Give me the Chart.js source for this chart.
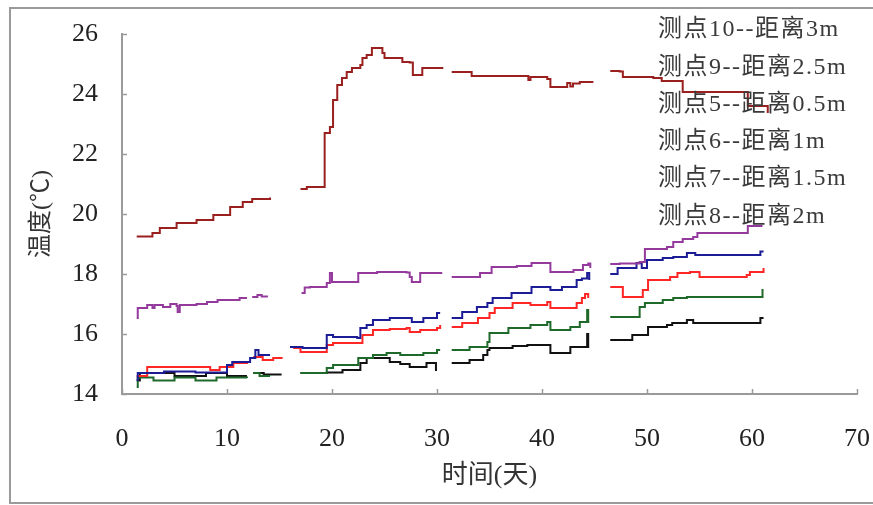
<!DOCTYPE html>
<html>
<head>
<meta charset="utf-8">
<script src="https://cdn.jsdelivr.net/npm/chart.js@4/dist/chart.umd.min.js"></script>
<style>
  html, body { margin: 0; padding: 0; background: #fff; }
  #wrap { width: 873px; height: 505px; position: relative; }
</style>
</head>
<body>
<div id="wrap"><canvas id="c" width="873" height="505"></canvas></div>
<script>
// ---- Data (days, temperature °C); null marks a gap in the record ----
const seriesLabels = ["测点10--距离3m", "测点9--距离2.5m", "测点5--距离0.5m", "测点6--距离1m", "测点7--距离1.5m", "测点8--距离2m"];
const xTickValues = [0, 10, 20, 30, 40, 50, 60, 70];
const yTickValues = [14, 16, 18, 20, 22, 24, 26];

const days10 = [1.4,2.9,3.6,5.2,7.1,8.7,10.3,11.5,12.4,14.1, 15.5, 17.0,17.6,19.1,19.3,19.8,20.1,20.5,20.95,21.4,21.9,22.7,22.9,23.3,23.8,24.4,24.8,25.0,26.7,27.4,27.7,28.2,28.6,30.6, 31.0, 31.4,32.9,33.3,38.6,38.7,38.9,40.5,40.8,42.0,42.4,42.7,42.95,43.6,44.8, 45.6, 46.5,47.4,47.7,50.6,51.4,53.4,59.5,59.6,61.4,61.5];
const temp10 = [19.25,19.37,19.53,19.7,19.8,19.97,20.23,20.4,20.5,20.55, null, 20.83,20.9,20.9,22.7,22.9,23.8,24.3,24.53,24.73,24.87,24.97,25.2,25.3,25.53,25.53,25.37,25.2,25.07,25.05,24.63,24.63,24.87,24.87, null, 24.73,24.73,24.6,24.6,24.47,24.57,24.5,24.23,24.23,24.37,24.25,24.35,24.4,24.43, null, 24.77,24.75,24.57,24.53,24.43,24.07,24.07,23.6,23.6,23.37];

const days9 = [1.4,1.5,2.4,2.9,3.1,3.9,4.6,5.2,5.3,5.5,7.1,8.1,9.1,11.2,11.9, 12.1, 12.4,12.9,13.3,13.8, 15.5, 17.1,17.4,17.9,19.5,19.8,20.0,22.5,24.3,27.1,27.4,27.6,28.4,30.5, 31.0, 31.4,34.1,35.2,37.6,39.0,40.8,43.0,43.9,44.4,44.6, 45.6, 46.5,47.4,49.3,49.8,51.9,52.5,53.4,54.4,54.8,59.6,61.0];
const temp9 = [16.53,16.87,16.97,16.87,16.97,16.9,17.0,16.93,16.73,16.97,17.0,17.07,17.13,17.2,17.2, null, 17.23,17.3,17.25,17.28, null, 17.37,17.55,17.57,17.7,18.03,17.73,18.03,18.07,18.05,17.9,17.73,18.03,18.03, null, 17.9,18.03,18.23,18.27,18.37,18.07,18.13,18.3,18.35,18.2, null, 18.33,18.35,18.4,18.83,18.9,19.07,19.17,19.23,19.37,19.6,19.6];

const days5 = [1.4,1.5,4.0,7.0,10.0,10.5,12.2,12.7,13.0,14.1, 15.2, 16.0,17.2,19.5,20.1,22.4,22.7,23.3,23.9,25.5,27.4,27.6,28.7,30.0,30.3, 31.0, 31.4,32.4,33.8,34.8,35.3,37.1,39.0,40.8,41.9,43.3,43.8,44.3,44.5, 45.6, 46.5,47.2,49.0,49.5,50.0,51.5,52.5,53.8,54.6,60.8,61.1];
const temp5 = [14.47,14.7,14.75,14.72,14.97,15.07,15.2,15.47,15.3,15.3, null, 15.57,15.53,15.97,15.9,15.87,16.2,16.3,16.47,16.53,16.53,16.4,16.53,16.7,16.7, null, 16.53,16.73,16.9,17.03,17.2,17.37,17.57,17.47,17.57,17.8,17.85,18.03,17.8, null, 18.0,18.2,18.37,18.2,18.47,18.53,18.57,18.7,18.63,18.75,18.75];

const days6 = [1.4,2.4,7.4,8.4,9.3,10.6,11.9, 12.2, 12.5,13.4,14.4,15.3, 15.8, 16.3,17.0,19.5,20.1,22.5,22.9,23.9,25.5,27.1,27.4,28.4,30.0,30.3, 31.0, 31.4,32.4,33.9,35.0,35.5,37.2,38.9,40.5,40.8,43.3,43.8,44.1,44.4, 45.6, 46.5,47.7,49.6,50.1,52.2,52.9,54.1,55.0,59.5,59.8,61.1];
const temp6 = [14.6,14.9,14.9,14.8,14.9,15.03,15.07, null, 15.23,15.13,15.2,15.2, null, 15.53,15.4,15.63,15.7,15.7,15.97,16.13,16.17,16.2,16.07,16.13,16.2,16.3, null, 16.23,16.37,16.53,16.7,16.87,17.03,16.97,17.07,16.87,17.03,17.2,17.33,17.2, null, 17.57,17.23,17.47,17.8,17.9,18.03,18.07,17.9,17.97,18.07,18.2];

const days7 = [1.4,1.5,3.0,5.0,7.0,9.0,11.9, 12.2, 12.5,13.1,14.1, 15.5, 17.0,19.5,20.1,22.5,23.9,25.2,26.5,28.7,30.0,30.3, 31.0, 31.4,33.1,34.8,35.0,36.8,38.9,40.5,40.8,42.7,43.6,44.3,44.4,44.5, 45.6, 46.5,49.3,49.8,51.5,52.5,53.8,61.0,61.1];
const temp7 = [14.23,14.55,14.45,14.55,14.45,14.55,14.53, null, 14.7,14.6,14.6, null, 14.7,14.87,14.97,15.2,15.3,15.37,15.3,15.37,15.47,15.47, null, 15.47,15.57,15.73,16.03,16.2,16.3,16.4,16.13,16.23,16.4,16.8,16.4,16.4, null, 16.57,16.9,17.03,17.13,17.2,17.23,17.47,17.47];

const days8 = [1.4,1.7,5.0,8.0,10.0,11.9, 12.2, 12.5,13.5,15.2, 15.8, 17.0,19.5,21.0,22.7,23.3,25.5,26.5,27.4,29.0,29.9,30.0, 31.0, 31.4,33.1,34.4,34.8,35.0,37.2,38.6,40.8,42.7,44.3,44.4,44.5, 45.6, 46.5,48.6,50.1,51.9,52.4,53.8,54.4,60.8,61.1];
const temp8 = [14.45,14.7,14.6,14.7,14.6,14.6, null, 14.7,14.65,14.65, null, 14.7,14.72,14.8,15.03,15.2,15.07,15.0,14.9,15.03,14.8,14.8, null, 15.03,15.13,15.3,15.47,15.53,15.6,15.63,15.37,15.57,16.0,15.57,15.57, null, 15.8,15.97,16.23,16.3,16.37,16.47,16.37,16.53,16.53];

const seriesDays = [days10, days9, days5, days6, days7, days8];
const seriesTemps = [temp10, temp9, temp5, temp6, temp7, temp8];
const seriesColors = ['#9a1f1f', '#943a9c', '#1c1c96', '#ff2626', '#1f6a2b', '#111111'];

function toPoints(xs, ys) {
  const n = Math.min(xs.length, ys.length);
  const out = [];
  for (let i = 0; i < n; i++) out.push({ x: xs[i], y: ys[i] });
  return out;
}

const SERIF = "'Liberation Serif', 'Times New Roman', 'Noto Sans CJK SC', serif";
const PLOT_LEFT = 122, PLOT_TOP = 34, PLOT_BOTTOM = 394, PLOT_RIGHT = 857;

const framePlugin = {
  id: 'frame',
  beforeDraw(chart) {
    const ctx = chart.ctx;
    ctx.save();
    ctx.fillStyle = '#ffffff';
    ctx.fillRect(0, 0, chart.width, chart.height);
    ctx.restore();
  },
  afterDraw(chart) {
    const ctx = chart.ctx;
    ctx.save();
    ctx.strokeStyle = '#9a9a9a';
    ctx.lineWidth = 2;
    ctx.strokeRect(10, 8, 880, 495);
    ctx.restore();
  }
};

const inwardTicks = {
  id: 'inwardTicks',
  afterDatasetsDraw(chart) {
    const ctx = chart.ctx;
    const xs = chart.scales.x, ys = chart.scales.y;
    ctx.save();
    ctx.strokeStyle = '#9a9a9a';
    ctx.lineWidth = 1.5;
    ctx.beginPath();
    xTickValues.forEach(v => {
      const px = Math.round(xs.getPixelForValue(v)) + 0.5;
      ctx.moveTo(px, ys.bottom);
      ctx.lineTo(px, ys.bottom - 5);
    });
    yTickValues.forEach(v => {
      const py = Math.round(ys.getPixelForValue(v)) + 0.5;
      ctx.moveTo(xs.left, py);
      ctx.lineTo(xs.left + 5, py);
    });
    ctx.stroke();
    ctx.restore();
  }
};

const textLegend = {
  id: 'textLegend',
  afterDraw(chart) {
    const ctx = chart.ctx;
    ctx.save();
    ctx.fillStyle = '#3a3a3a';
    ctx.font = "24px " + SERIF;
    try { ctx.letterSpacing = '1.5px'; } catch (e) {}
    ctx.textAlign = 'left';
    ctx.textBaseline = 'middle';
    chart.data.datasets.forEach((ds, i) => {
      ctx.fillText(ds.label, 658, 30 + i * 37.3);
    });
    ctx.restore();
  }
};

const datasets = seriesLabels.map((label, i) => ({
  label: label,
  data: toPoints(seriesDays[i], seriesTemps[i]),
  borderColor: seriesColors[i],
  backgroundColor: seriesColors[i],
  borderWidth: 2,
  pointRadius: 0,
  stepped: true,
  spanGaps: false,
  fill: false
}));

new Chart(document.getElementById('c'), {
  type: 'line',
  data: { datasets: datasets },
  options: {
    responsive: false,
    animation: false,
    events: [],
    layout: { padding: { top: PLOT_TOP, right: 873 - PLOT_RIGHT, bottom: 0, left: 0 } },
    plugins: {
      legend: { display: false },
      tooltip: { enabled: false }
    },
    scales: {
      x: {
        type: 'linear',
        min: 0, max: 70,
        afterBuildTicks: s => { s.ticks = xTickValues.map(v => ({ value: v })); },
        afterFit: s => { s.height = 505 - PLOT_BOTTOM; s.paddingLeft = 0; s.paddingRight = 0; },
        ticks: { color: '#222', font: { family: SERIF, size: 26 }, padding: 30, maxRotation: 0 },
        grid: { display: false, drawTicks: false },
        border: { display: true, color: '#9a9a9a', width: 2 },
        title: { display: true, text: '时间(天)', color: '#333', font: { family: SERIF, size: 26 }, padding: { top: 0, bottom: 13 } }
      },
      y: {
        type: 'linear',
        min: 14, max: 26,
        afterBuildTicks: s => { s.ticks = yTickValues.map(v => ({ value: v })); },
        afterFit: s => { s.width = PLOT_LEFT; s.paddingTop = 0; s.paddingBottom = 0; },
        ticks: { color: '#222', font: { family: SERIF, size: 26 }, padding: 24 },
        grid: { display: false, drawTicks: false },
        border: { display: true, color: '#9a9a9a', width: 2 },
        title: { display: true, text: '温度(℃)', color: '#333', font: { family: SERIF, size: 24 }, padding: { top: 27, bottom: 0 } }
      }
    }
  },
  plugins: [framePlugin, inwardTicks, textLegend]
});
</script>
</body>
</html>
